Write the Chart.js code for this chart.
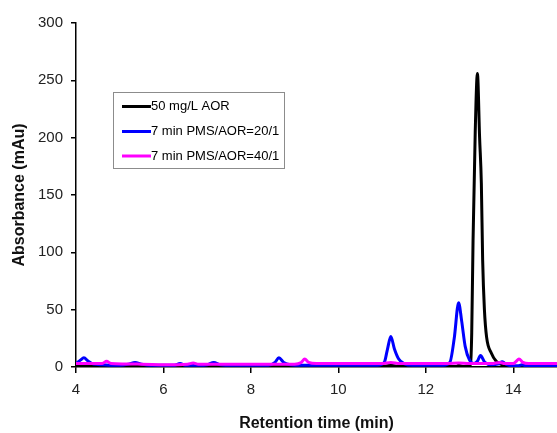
<!DOCTYPE html>
<html>
<head>
<meta charset="utf-8">
<script src="https://cdn.jsdelivr.net/npm/chart.js@4.4.0/dist/chart.umd.min.js"></script>
<style>
html,body{margin:0;padding:0;background:#fff;}
#wrap{position:relative;width:557px;height:433px;}
</style>
</head>
<body>
<div id="wrap"><canvas id="c" width="557" height="433"></canvas></div>
<script>
const seriesLabels = ["50 mg/L AOR", "7 min PMS/AOR=20/1", "7 min PMS/AOR=40/1"];
const xTicks = [4, 6, 8, 10, 12, 14];
const yTicks = [0, 50, 100, 150, 200, 250, 300];

const blackT = [4.0,5.0,6.0,7.0,8.0,9.0,10.0,11.0,11.2,11.4,12.0,12.7,12.75,12.85,12.98,13.02,13.05,13.08,13.13,13.18,13.23,13.27,13.30,13.34,13.39,13.5,13.61,13.75,13.9,14.2,15.0];
const blackV = [0.5,0.5,0.5,0.5,0.5,0.5,0.5,0.5,1.5,0.5,0.5,0.5,1.5,0.5,0.8,2,30,110,205,256,200,160,93,50,26,12,5,2,0.5,0.5,0.5];

const blueT = [4.0,4.1,4.18,4.28,4.4,4.6,4.8,5.0,5.2,5.35,5.5,5.7,6.0,6.25,6.38,6.5,6.8,7.0,7.15,7.3,7.6,8.0,8.4,8.55,8.64,8.75,8.9,9.2,9.6,10.0,10.5,10.9,11.05,11.12,11.2,11.28,11.38,11.5,11.7,12.0,12.4,12.55,12.65,12.75,12.82,12.9,13.0,13.1,13.18,13.25,13.35,13.5,13.65,13.75,13.85,14.0,14.1,14.2,14.3,14.5,15.0];
const blueV = [3,6,8,5,2.5,2,1.5,1.5,2.5,4,2.5,1.5,1.5,1.5,3,1.5,1.5,2,4,2,1.5,1.5,1.5,4,8,4,2,1.5,1.5,1.5,1.5,1.5,4,15,26.5,16,7,3,1.5,1.5,1.5,4,25,56,40,18,6,3,5,10,4,2,2.5,4.5,2,1,1,2,1,1,1];

const pinkT = [4.0,4.3,4.6,4.7,4.8,5.5,6.0,6.55,6.68,6.8,7.5,8.0,9.0,9.15,9.23,9.32,9.5,10.0,10.5,11.0,11.2,11.4,12.0,12.5,12.75,13.0,13.5,13.7,13.8,14.0,14.07,14.13,14.22,14.35,15.0];
const pinkV = [3,3,3,5,3,2.5,2,2.5,3.5,2.5,2.5,2.5,2.5,4,7,4,3,3,3,3,4,3,3,3,3.5,3,3,4,3,3,5,7,4,3,3];

function pts(t, v){ return t.map((x,i)=>({x:x, y:v[i]})); }

const legendBox = {
  id: 'legendBox',
  afterDatasetsDraw(chart){
    const ctx = chart.ctx, a = chart.chartArea;
    const bx = a.left + 37, by = a.top + 69, bw = 171, bh = 76;
    ctx.save();
    ctx.fillStyle = '#fff';
    ctx.fillRect(bx, by, bw, bh);
    ctx.strokeStyle = '#8c8c8c';
    ctx.lineWidth = 1;
    ctx.strokeRect(bx + 0.5, by + 0.5, bw, bh);
    ctx.font = '13px "Liberation Sans", Arial, sans-serif';
    ctx.textBaseline = 'middle';
    ctx.textAlign = 'left';
    const ys = [14.5, 39.5, 64];
    chart.data.datasets.forEach((ds, i) => {
      const y = by + ys[i];
      ctx.strokeStyle = ds.borderColor;
      ctx.lineWidth = 3;
      ctx.beginPath();
      ctx.moveTo(bx + 9, y);
      ctx.lineTo(bx + 38, y);
      ctx.stroke();
      ctx.fillStyle = '#000';
      ctx.fillText(ds.label, bx + 38, y);
    });
    ctx.restore();
  }
};

const common = {showLine:true, pointRadius:0, borderWidth:3, fill:false, cubicInterpolationMode:'monotone'};

new Chart(document.getElementById('c'), {
  type: 'scatter',
  data: {
    datasets: [
      Object.assign({label: seriesLabels[0], data: pts(blackT, blackV), borderColor:'#000000', order:3}, common),
      Object.assign({label: seriesLabels[1], data: pts(blueT, blueV), borderColor:'#0000ff', order:2}, common),
      Object.assign({label: seriesLabels[2], data: pts(pinkT, pinkV), borderColor:'#ff00ff', order:1}, common)
    ]
  },
  options: {
    responsive:false,
    animation:false,
    layout:{padding:{top:23, right:0, left:0, bottom:0}},
    plugins:{legend:{display:false}, tooltip:{enabled:false}},
    scales:{
      x:{
        type:'linear', min:4, max:15,
        afterBuildTicks(s){ s.ticks = xTicks.map(v=>({value:v})); },
        afterFit(s){ s.height = 66; },
        border:{display:true, color:'#000', width:1.5},
        grid:{display:true, drawOnChartArea:false, drawTicks:true, tickLength:6, color:'#000', lineWidth:1.5},
        ticks:{color:'#222', font:{family:'"Liberation Sans", Arial', size:15}, padding:8, maxRotation:0},
        title:{display:true, text:'Retention time (min)', color:'#111', font:{family:'"Liberation Sans", Arial', size:16, weight:'bold'}, padding:{top:15, bottom:0}}
      },
      y:{
        type:'linear', min:0, max:300,
        afterBuildTicks(s){ s.ticks = yTicks.map(v=>({value:v})); },
        afterFit(s){ s.width = 76; },
        border:{display:true, color:'#000', width:1.5},
        grid:{display:true, drawOnChartArea:false, drawTicks:true, tickLength:5, color:'#000', lineWidth:1.5},
        ticks:{color:'#222', font:{family:'"Liberation Sans", Arial', size:15}, padding:8},
        title:{display:true, text:'Absorbance (mAu)', color:'#111', font:{family:'"Liberation Sans", Arial', size:16, weight:'bold'}, padding:{top:10,bottom:0}}
      }
    }
  },
  plugins:[legendBox]
});
</script>
</body>
</html>
